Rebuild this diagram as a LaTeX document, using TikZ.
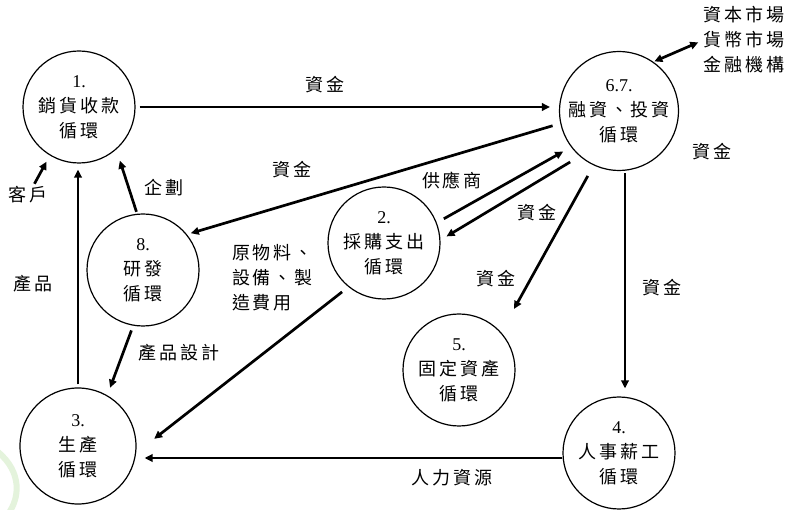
\documentclass[tikz,border=0pt]{standalone}
\usepackage{fontspec}
\newfontfamily\cjk[LetterSpace=15]{Noto Sans CJK TC}
\newfontfamily\numf{Liberation Serif}
\usetikzlibrary{arrows.meta}
\definecolor{wmgreen}{RGB}{228,243,220}
\begin{document}
\begin{tikzpicture}[x=1pt,y=-1pt,
  cyc/.style={circle,draw,line width=1.2pt,minimum size=112pt,inner sep=0pt,align=center,font=\cjk\fontsize{18}{25}\selectfont},
  lbl/.style={inner sep=0pt,font=\cjk\fontsize{18}{25}\selectfont},
  tip/.tip={Triangle[length=8pt,width=7.5pt]},
  conn/.style={line width=2.7pt,-tip},
  dconn/.style={line width=2.7pt,tip-tip},
]
\useasboundingbox (0,0) rectangle (804,510);
\fill[white] (0,0) rectangle (804,510);
% faint watermark
\draw[wmgreen,line width=6pt] (-2,452) .. controls (22,472) and (20,498) .. (8,514);

% cycles
\node[cyc] (n1) at (79,107) {{\numf 1.}\\銷貨收款\\循環};
\node[cyc] (n67) at (619,111) {{\numf 6.7.}\\融資、投資\\循環};
\node[cyc] (n8) at (143,270) {{\numf 8.}\\研發\\循環};
\node[cyc] (n2) at (384,243) {{\numf 2.}\\採購支出\\循環};
\node[cyc] (n5) at (459,370) {{\numf 5.}\\固定資產\\循環};
\node[cyc] (n4) at (619,453) {{\numf 4.}\\人事薪工\\循環};
\node[cyc,minimum size=116pt] (n3) at (78,446) {{\numf 3.}\\生產\\循環};

% labels
\node[lbl] (lA) at (325,85) {資金};
\node[lbl] (lB) at (292,170) {資金};
\node[lbl] (lC) at (164,188) {企劃};
\node[lbl] (cust) at (28,195) {客戶};
\node[lbl] (lD) at (33,284) {產品};
\node[lbl,align=left,anchor=west] (lE) at (232,278) {原物料、\\設備、製\\造費用};
\node[lbl] (lF) at (179,353) {產品設計};
\node[lbl] (lG) at (452,180) {供應商};
\node[lbl] (lH) at (537,213) {資金};
\node[lbl] (lI) at (496,279) {資金};
\node[lbl] (lJ) at (662,288) {資金};
\node[lbl] (lK) at (712,152) {資金};
\node[lbl] (lL) at (452,478) {人力資源};
\node[lbl,align=center] (mkt) at (744,40) {資本市場\\貨幣市場\\金融機構};

% connectors
\draw[conn,shorten <=4pt,shorten >=9pt] (n1.east) -- (n1.east -| n67.west);
\draw[conn,shorten <=8pt,shorten >=4pt] (n67.192) -- (n8.39);
\draw[conn,shorten <=8pt,shorten >=9pt] (n2.21) -- (n67.217);
\draw[conn,shorten <=11pt,shorten >=7pt] (n67.229) -- (n2.3);
\draw[conn,shorten <=12pt] (n67.245) -- ([shift={(15,-21)}]n5.45);
\draw[conn,shorten <=2pt,shorten >=8pt] ([xshift=6pt]n67.south) -- ([xshift=6pt]n4.north);
\draw[dconn,shorten <=1pt,shorten >=6pt] (n67.55) -- (mkt.west);
\draw[conn,shorten >=8pt] ([yshift=-5pt]n4.west) -- ([yshift=-5pt]n4.west -| n3.east);
\draw[conn,shorten <=8pt] (n2.231) -- ([xshift=18pt]n3.7);
\draw[conn,shorten <=5pt,shorten >=8pt] (n8.260) -- (n3.60);
\draw[conn,shorten <=3pt,shorten >=6pt] (n3.north) -- (n3.north |- n1.south);
\draw[conn,shorten <=2pt] (n8.96) -- ([shift={(6,9)}]n1.308);
\draw[conn,shorten <=3pt,shorten >=7pt] ([xshift=5pt]cust.north) -- (n1.239);
\end{tikzpicture}
\end{document}
